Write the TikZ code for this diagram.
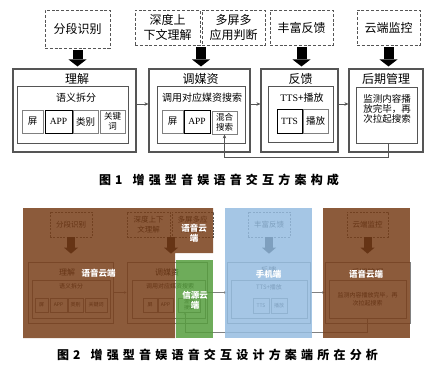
\documentclass[tikz,border=0pt]{standalone}
\usepackage{fontspec}
\setmainfont{Noto Sans CJK SC}
\newfontfamily\latf{Liberation Serif}
\newfontfamily\capfont[LetterSpace=35]{Noto Sans CJK SC}
\usetikzlibrary{arrows.meta,calc}
\definecolor{brn}{RGB}{120,62,25}
\definecolor{blu}{RGB}{149,188,224}
\definecolor{grn}{RGB}{85,157,61}
\definecolor{lin}{RGB}{85,85,85}
\newcommand\myfs[2]{\fontsize{#1}{#2}\selectfont}
\begin{document}
\begin{tikzpicture}[x=1pt,y=-1pt,
  dbox/.style={draw=lin, dash pattern=on 3pt off 1.8pt, line width=0.9pt, inner sep=0, align=center, font=\myfs{12}{15}},
  bbox/.style={draw=lin, line width=1.1pt, inner sep=0},
  ibox/.style={draw=lin, line width=1pt, inner sep=0},
  sbox/.style={draw=gray, line width=0.8pt, inner sep=0, align=center, font=\myfs{9.5}{11}},
  sboxk/.style={sbox, draw=black, line width=1pt},
  ttl/.style={inner sep=0, font=\myfs{12}{14}},
  itx/.style={inner sep=0, align=center, font=\myfs{10}{11}},
  fat/.style={line width=10pt, -{Triangle[width=18pt,length=7pt,line width=0pt]}, shorten <=2pt, shorten >=2pt},
  conn/.style={draw=lin, line width=0.7pt, -{Stealth[length=4pt,width=3.5pt]}},
  captxt/.style={inner sep=0, font=\capfont\bfseries\myfs{12}{14}},
  dbox2/.style={draw=lin, dash pattern=on 2pt off 1.3pt, line width=0.7pt, inner sep=0, align=center, font=\myfs{7.5}{9.5}},
  bbox2/.style={draw=gray, line width=0.7pt, inner sep=0},
  sbox2/.style={draw=gray, line width=0.6pt, inner sep=0, align=center, font=\myfs{5}{6}},
  ttl2/.style={inner sep=0, font=\myfs{8}{9}},
  itx2/.style={inner sep=0, align=center, font=\myfs{6}{8}},
  fat2/.style={line width=8pt, -{Triangle[width=14pt,length=6pt,line width=0pt]}, shorten >=8pt},
  conn2/.style={draw=gray, line width=0.6pt, -{Stealth[length=2.5pt,width=2.5pt]}},
  wlab/.style={inner sep=0, align=center, text=white, font=\bfseries\myfs{8.5}{10}}]
\useasboundingbox (0,0) rectangle (433,372);
% ---------- Figure 1 ----------
\node[dbox, minimum width=65, minimum height=38] (D1) at (77.5,29) {分段识别};
\node[dbox, minimum width=65, minimum height=35] (D2) at (167.5,27.5) {深度上\\下文理解};
\node[dbox, minimum width=63, minimum height=35] (D3) at (233.5,27.5) {多屏多\\应用判断};
\node[dbox, minimum width=63, minimum height=35] (D4) at (301.5,27.5) {丰富反馈};
\node[dbox, minimum width=63, minimum height=35] (D5) at (388.5,27.5) {云端监控};

\node[bbox, minimum width=123, minimum height=83] (B1) at (74.5,110.5) {};
\node[bbox, minimum width=101, minimum height=83] (B2) at (199.5,110.5) {};
\node[bbox, minimum width=77, minimum height=83] (B3) at (299.5,110.5) {};
\node[bbox, minimum width=74, minimum height=83] (B4) at (386,110.5) {};
\node[ttl] (T1) at (77,79) {理解};
\node[ttl] (T2) at (200.5,79) {调媒资};
\node[ttl] (T3) at (300.5,79) {反馈};
\node[ttl] (T4) at (386,79) {后期管理};

\node[ibox, minimum width=111, minimum height=57] (I1) at (72.5,114.5) {};
\node[ibox, minimum width=88, minimum height=57] (I2) at (201,114.5) {};
\node[ibox, minimum width=65, minimum height=56] (I3) at (300.5,114) {};
\node[ibox, minimum width=61, minimum height=56] (I4) at (386.5,115) {};
\node[itx] (IT1) at (76,98) {语义拆分};
\node[itx] (IT2) at (202,98) {调用对应媒资搜索};
\node[itx] (IT3) at (302,98) {{\latf TTS}+播放};
\node[itx, font=\myfs{9.5}{10}] (IT4) at (387,109) {监测内容播\\放完毕，再\\次拉起搜索};

\node[sbox, minimum width=21, minimum height=23] (S11) at (32.5,121.5) {屏};
\node[sboxk, minimum width=27, minimum height=23] (S12) at (58.5,121.5) {\latf APP};
\node[sbox, minimum width=25, minimum height=23] (S13) at (85.5,121.5) {类别};
\node[sbox, minimum width=25, minimum height=23, font=\myfs{8.5}{10}] (S14) at (112.5,121.5) {关键\\词};
\node[sbox, minimum width=21, minimum height=23] (S21) at (172.5,121.5) {屏};
\node[sboxk, minimum width=26, minimum height=23] (S22) at (197,121.5) {\latf APP};
\node[sbox, minimum width=25, minimum height=23, font=\myfs{8.5}{10}] (S23) at (224.5,122.5) {混合\\搜索};
\node[sboxk, minimum width=25, minimum height=24] (S31) at (289.5,121) {\latf TTS};
\node[sbox, minimum width=25, minimum height=24] (S32) at (315.5,121) {播放};

\draw[fat] (D1.south) -- (D1.south |- B1.north);
\coordinate (D23) at ($(D2.south east)!0.5!(D3.south west)$);
\draw[fat] (D23) -- (D23 |- B2.north);
\draw[fat] (D4.south) -- (D4.south |- B3.north);
\draw[fat] (D5.south) -- (D5.south |- B4.north);

\draw[conn] ([yshift=6.5pt]B1.east) -- ([yshift=6.5pt]B2.west);
\draw[conn] ([yshift=6.5pt]B2.east) -- ([yshift=6.5pt]B3.west);
\draw[conn] ([yshift=6.5pt]B3.east) -- ([yshift=6.5pt]B4.west);
\draw[conn] ([xshift=1.5pt]I4.south) -- ++(0,14) -| (S23.south);

\node[captxt] (C1) at (219,180) {图1\hspace{10pt}增强型音娱语音交互方案构成};

% ---------- Figure 2 ----------
\node[dbox2, minimum width=42, minimum height=25] (E1) at (71,224.5) {分段识别};
\node[dbox2, minimum width=43, minimum height=25] (E2) at (148.5,224.5) {深度上下\\文理解};
\node[dbox2, minimum width=41, minimum height=25] (E3) at (192.5,224.5) {多屏多应\\用判断};
\node[dbox2, minimum width=42, minimum height=25] (E4) at (269,224.5) {丰富反馈};
\node[dbox2, minimum width=41, minimum height=25] (E5) at (367.5,224.5) {云端监控};

\node[bbox2, minimum width=85, minimum height=61] (F1) at (70.5,292.5) {};
\node[bbox2, minimum width=80, minimum height=61] (F2) at (167,292.5) {};
\node[bbox2, minimum width=83, minimum height=61] (F3) at (268.5,292.5) {};
\node[bbox2, minimum width=85, minimum height=61] (F4) at (367.5,292.5) {};
\node[ttl2] (U1) at (67,272) {理解};
\node[ttl2] (U2) at (167,272) {调媒资};
\node[ttl2] (U3) at (268.5,270) {反馈};
\node[ttl2] (U4) at (367.5,272) {后期管理};

\node[bbox2, minimum width=78, minimum height=38] (G1) at (71,299) {};
\node[bbox2, minimum width=73, minimum height=38] (G2) at (168.5,299) {};
\node[bbox2, minimum width=76, minimum height=38] (G3) at (269,299) {};
\node[bbox2, minimum width=77, minimum height=38] (G4) at (367.5,299) {};
\node[itx2] (V1) at (71,286) {语义拆分};
\node[itx2] (V2) at (170,286) {调用对应媒资搜索};
\node[itx2] (V3) at (269,287) {TTS+播放};
\node[itx2, font=\myfs{6}{8}] (V4) at (367.5,299) {监测内容播放完毕，再\\次拉起搜索};

\node[sbox2, minimum width=13, minimum height=14] (H11) at (41.5,305) {屏};
\node[sbox2, minimum width=17, minimum height=14] (H12) at (58.5,305) {APP};
\node[sbox2, minimum width=15, minimum height=14] (H13) at (75.5,305) {类别};
\node[sbox2, minimum width=22, minimum height=14] (H14) at (96,305) {关键词};
\node[sbox2, minimum width=14, minimum height=14] (H21) at (150,305) {屏};
\node[sbox2, minimum width=15, minimum height=14] (H22) at (165.5,305) {APP};
\node[sbox2, minimum width=22, minimum height=14] (H23) at (189,305) {混合\\搜索};
\node[sbox2, minimum width=16, minimum height=15] (H31) at (261,305.5) {TTS};
\node[sbox2, minimum width=16, minimum height=15] (H32) at (279,305.5) {播放};

\draw[fat2] (E1.south) -- (E1.south |- F1.north);
\coordinate (E23) at ($(E2.south east)!0.5!(E3.south west)$);
\draw[fat2] (E23) -- (E23 |- F2.north);
\draw[fat2] (E4.south) -- (E4.south |- F3.north);
\draw[fat2] (E5.south) -- (E5.south |- F4.north);

\draw[conn2] (F1.east) -- (F2.west);
\draw[conn2] (F2.east) -- (F3.west);
\draw[conn2] (F3.east) -- (F4.west);
\draw[conn2] (G4.south) -- ++(0,14) -| ([xshift=-4pt]H23.south);

\fill[brn, opacity=0.85] (23,208) -- (213,208) -- (213,253) -- (175,253) -- (175,338) -- (23,338) -- cycle;
\fill[grn, opacity=0.85] (176,260) rectangle (213,338);
\fill[blu, opacity=0.85] (225,208) rectangle (312,338);
\fill[brn, opacity=0.85] (323,208) rectangle (410,338);

\node[wlab] (L1) at (98.5,273) {语音云端};
\node[wlab] (L2) at (194,233) {语音云\\端};
\node[wlab] (L3) at (195,300) {信源云\\端};
\node[wlab] (L4) at (268.5,274) {手机端};
\node[wlab] (L5) at (366,274) {语音云端};

\node[captxt] (C2) at (217.5,355) {图2\hspace{10pt}增强型音娱语音交互设计方案端所在分析};
\end{tikzpicture}
\end{document}
